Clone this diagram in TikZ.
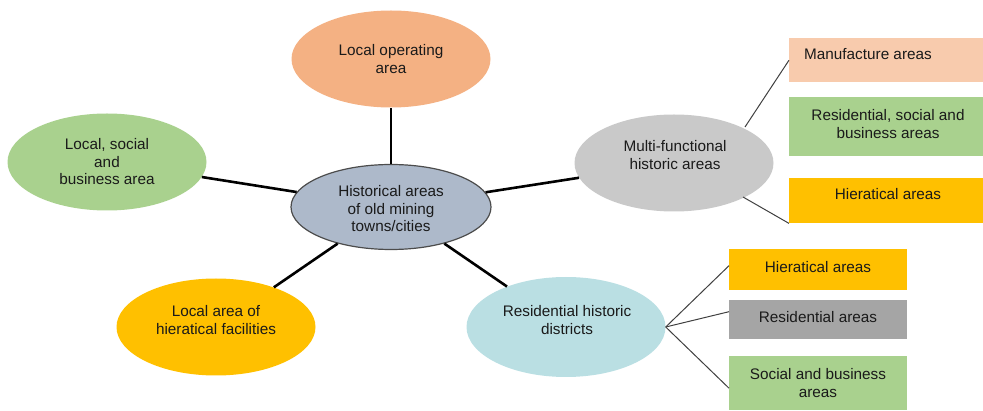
\documentclass[tikz,border=0pt]{standalone}
\usepackage{fontspec}
\setmainfont{Liberation Sans}
\usetikzlibrary{shapes.geometric}
\definecolor{cBlue}{HTML}{ADB9CA}
\definecolor{cOrange}{HTML}{F4B183}
\definecolor{cGreen}{HTML}{A9D18E}
\definecolor{cGrey}{HTML}{C9C9C9}
\definecolor{cYellow}{HTML}{FFC000}
\definecolor{cCyan}{HTML}{BADFE3}
\definecolor{cPeach}{HTML}{F8CBAD}
\definecolor{cDark}{HTML}{A5A5A5}
\definecolor{cText}{HTML}{1A1A1A}
\tikzset{
  oval/.style={ellipse, inner sep=0pt, minimum width=199pt, minimum height=97pt},
  lbl/.style={font=\fontsize{15.3}{17.5}\selectfont, text=cText, align=center, inner sep=0pt},
  boxr/.style={rectangle, inner sep=0pt, anchor=north west},
  thick link/.style={line width=2.6pt, black},
  thin link/.style={line width=1pt, draw=black!75},
}
\begin{document}
\begin{tikzpicture}[x=1pt,y=-1pt]
\useasboundingbox (0,0) rectangle (983,411);
% ellipses
\node[oval, fill=cBlue, draw=black!70, line width=1.2pt, minimum width=200pt, minimum height=85pt] (c) at (391,207) {};
\node[oval, fill=cOrange] (top) at (391,59) {};
\node[oval, fill=cGreen] (left) at (107,162) {};
\node[oval, fill=cGrey] (multi) at (674,163) {};
\node[oval, fill=cYellow] (bl) at (216,327) {};
\node[oval, fill=cCyan, minimum height=100pt] (res) at (566,327) {};
% texts in ellipses
\node[lbl] (tc) at (391,209) {Historical areas\\of old mining\\towns/cities};
\node[lbl] (ttop) at (391,59) {Local operating\\area};
\node[lbl] (tleft) at (107,162) {Local, social\\and\\business area};
\node[lbl] (tmulti) at (675,155) {Multi-functional\\historic areas};
\node[lbl] (tbl) at (216,320) {Local area of\\hieratical facilities};
\node[lbl] (tres) at (567,320) {Residential historic\\districts};
% rectangles
\node[boxr, fill=cPeach, minimum width=194pt, minimum height=44pt] (r1) at (789,38) {};
\node[boxr, fill=cGreen, minimum width=194pt, minimum height=59pt] (r2) at (789,97) {};
\node[boxr, fill=cYellow, minimum width=194pt, minimum height=45pt] (r3) at (789,178) {};
\node[boxr, fill=cYellow, minimum width=178pt, minimum height=41pt] (r4) at (729,249) {};
\node[boxr, fill=cDark, minimum width=178pt, minimum height=39pt] (r5) at (729,300) {};
\node[boxr, fill=cGreen, minimum width=178pt, minimum height=54pt] (r6) at (729,356) {};
\node[lbl] (t1) at (868,54) {Manufacture areas};
\node[lbl] (t2) at (888,124) {Residential, social and\\business areas};
\node[lbl] (t3) at (888,194) {Hieratical areas};
\node[lbl] (t4) at (818,267) {Hieratical areas};
\node[lbl] (t5) at (818,317) {Residential areas};
\node[lbl] (t6) at (818,383) {Social and business\\areas};
% thick connectors
\draw[thick link] (c) -- (top);
\draw[thick link] (c) -- (left);
\draw[thick link] (c) -- (multi);
\draw[thick link] (c) -- (bl);
\draw[thick link] (c) -- (res);
% thin connectors
\coordinate (m1) at (745,127);
\coordinate (m2) at (743,197);
\draw[thin link] (m1) -- (r1.west);
\draw[thin link] (m2) -- (r3.south west);
\draw[thin link] (res.east) -- ([yshift=4pt]r4.west);
\draw[thin link] (res.east) -- ([yshift=8pt]r5.west);
\draw[thin link] (res.east) -- ([yshift=-5pt]r6.west);
\end{tikzpicture}
\end{document}
